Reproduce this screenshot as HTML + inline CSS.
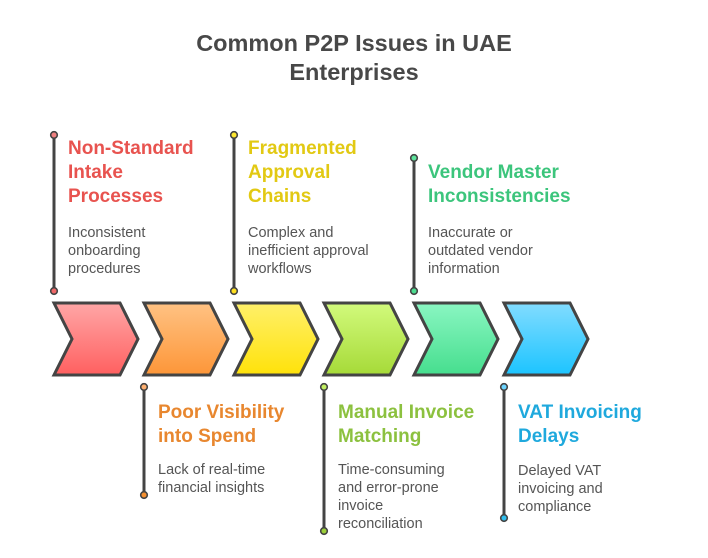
<!DOCTYPE html>
<html><head><meta charset="utf-8"><style>
html,body{margin:0;padding:0;background:#fff;}
body{width:708px;height:558px;position:relative;overflow:hidden;font-family:"Liberation Sans",Arial,sans-serif;}
.t{position:absolute;left:0;width:708px;text-align:center;top:29px;font-size:23.5px;line-height:29px;font-weight:bold;color:#484848;}
.h{position:absolute;font-size:19px;line-height:24px;font-weight:bold;white-space:nowrap;}
.d{position:absolute;font-size:14.5px;line-height:18px;color:#555;white-space:nowrap;}
svg{position:absolute;left:0;top:0;}
</style></head><body>
<svg width="708" height="558" viewBox="0 0 708 558">
<defs>
<linearGradient id="g0" x1="0" y1="0" x2="0" y2="1"><stop offset="0" stop-color="#ffa6a6"/><stop offset="1" stop-color="#ff6060"/></linearGradient>
<linearGradient id="g1" x1="0" y1="0" x2="0" y2="1"><stop offset="0" stop-color="#ffc283"/><stop offset="1" stop-color="#fd9638"/></linearGradient>
<linearGradient id="g2" x1="0" y1="0" x2="0" y2="1"><stop offset="0" stop-color="#fff06a"/><stop offset="1" stop-color="#ffe20a"/></linearGradient>
<linearGradient id="g3" x1="0" y1="0" x2="0" y2="1"><stop offset="0" stop-color="#d2fa7c"/><stop offset="1" stop-color="#a6da38"/></linearGradient>
<linearGradient id="g4" x1="0" y1="0" x2="0" y2="1"><stop offset="0" stop-color="#8af6c2"/><stop offset="1" stop-color="#46de8e"/></linearGradient>
<linearGradient id="g5" x1="0" y1="0" x2="0" y2="1"><stop offset="0" stop-color="#82dcff"/><stop offset="1" stop-color="#1cc4ff"/></linearGradient>
</defs>
<g stroke="#444" stroke-width="3" stroke-linejoin="miter">
<polygon points="54,303 120,303 138,339 120,375 54,375 72,339" fill="url(#g0)"/>
<polygon points="144,303 210,303 228,339 210,375 144,375 162,339" fill="url(#g1)"/>
<polygon points="234,303 300,303 318,339 300,375 234,375 252,339" fill="url(#g2)"/>
<polygon points="324,303 390,303 408,339 390,375 324,375 342,339" fill="url(#g3)"/>
<polygon points="414,303 480,303 498,339 480,375 414,375 432,339" fill="url(#g4)"/>
<polygon points="504,303 570,303 588,339 570,375 504,375 522,339" fill="url(#g5)"/>
</g>
<g stroke="#444" stroke-width="3">
<line x1="54" y1="135" x2="54" y2="291"/>
<line x1="234" y1="135" x2="234" y2="291"/>
<line x1="414" y1="158" x2="414" y2="291"/>
<line x1="144" y1="387" x2="144" y2="495"/>
<line x1="324" y1="387" x2="324" y2="531"/>
<line x1="504" y1="387" x2="504" y2="518"/>
</g>
<g stroke="#444" stroke-width="1.6">
<circle cx="54" cy="135" r="3.3" fill="#f08080"/><circle cx="54" cy="291" r="3.3" fill="#f06868"/>
<circle cx="234" cy="135" r="3.3" fill="#ffe830"/><circle cx="234" cy="291" r="3.3" fill="#ffe020"/>
<circle cx="414" cy="158" r="3.3" fill="#5ce49c"/><circle cx="414" cy="291" r="3.3" fill="#4cdc90"/>
<circle cx="144" cy="387" r="3.3" fill="#ffb070"/><circle cx="144" cy="495" r="3.3" fill="#f59030"/>
<circle cx="324" cy="387" r="3.3" fill="#c0ee60"/><circle cx="324" cy="531" r="3.3" fill="#9cd03a"/>
<circle cx="504" cy="387" r="3.3" fill="#6cd4ff"/><circle cx="504" cy="518" r="3.3" fill="#30c0f0"/>
</g>
</svg>
<div class="t">Common P2P Issues in UAE<br>Enterprises</div>

<div class="h" style="left:68px;top:137px;color:#e8534f;">Non-Standard<br>Intake<br>Processes</div>
<div class="d" style="left:68px;top:224px;">Inconsistent<br>onboarding<br>procedures</div>

<div class="h" style="left:248px;top:137px;color:#e2c913;">Fragmented<br>Approval<br>Chains</div>
<div class="d" style="left:248px;top:224px;">Complex and<br>inefficient approval<br>workflows</div>

<div class="h" style="left:428px;top:161px;color:#3cc57c;">Vendor Master<br>Inconsistencies</div>
<div class="d" style="left:428px;top:224px;">Inaccurate or<br>outdated vendor<br>information</div>

<div class="h" style="left:158px;top:401px;color:#e8872f;">Poor Visibility<br>into Spend</div>
<div class="d" style="left:158px;top:461px;">Lack of real-time<br>financial insights</div>

<div class="h" style="left:338px;top:401px;color:#8cc13f;">Manual Invoice<br>Matching</div>
<div class="d" style="left:338px;top:461px;">Time-consuming<br>and error-prone<br>invoice<br>reconciliation</div>

<div class="h" style="left:518px;top:401px;color:#1fa9dd;">VAT Invoicing<br>Delays</div>
<div class="d" style="left:518px;top:462px;">Delayed VAT<br>invoicing and<br>compliance</div>
</body></html>
